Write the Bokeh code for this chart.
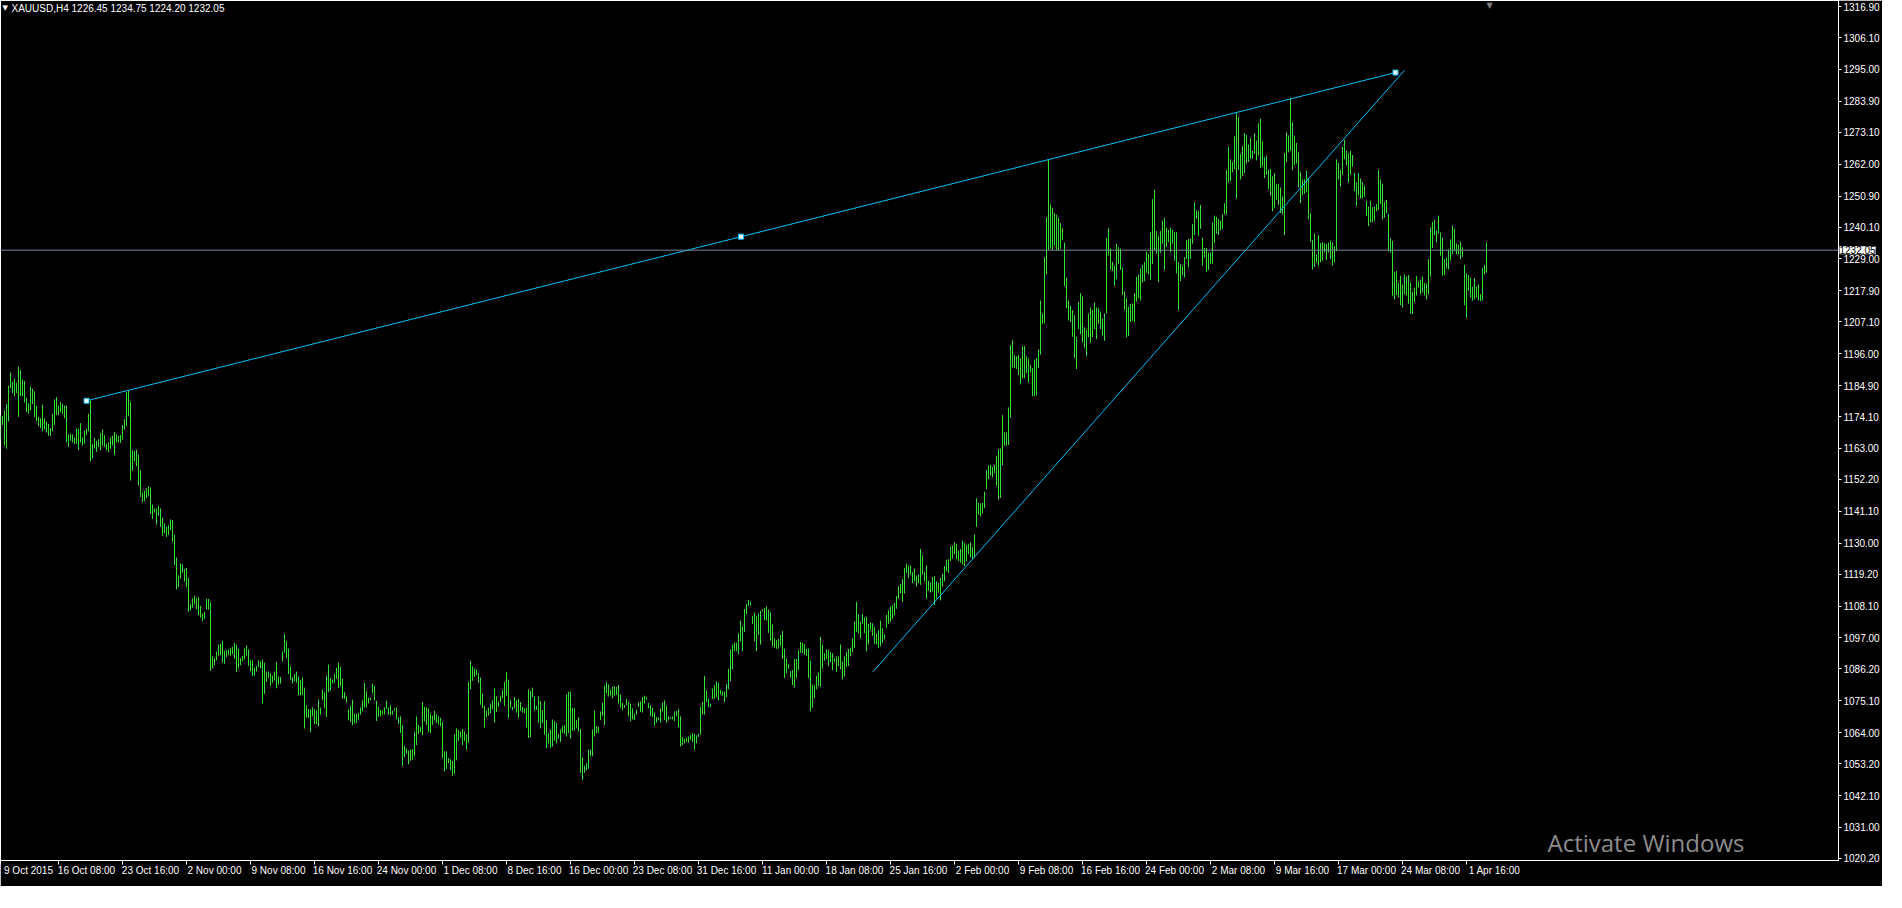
from bokeh.plotting import figure
from bokeh.models import Range1d, FixedTicker, PrintfTickFormatter, Label, Span, LinearAxis
from bokeh.embed import file_html
from bokeh.resources import INLINE

# ---------------- data ----------------
symbol = "XAUUSD,H4"
last_ohlc = [1226.45, 1234.75, 1224.20, 1232.05]   # open, high, low, close of the last bar
bid_price = 1232.05

highs = [
    1174.6, 1174.3, 1176.2, 1178.5, 1184.9, 1189.5, 1186.2, 1187.3, 1185.9, 1191.5,
    1190.3, 1187.0, 1186.5, 1180.7, 1178.7, 1184.6, 1183.8, 1182.9, 1177.9, 1174.0,
    1173.5, 1178.2, 1173.5, 1172.4, 1171.6, 1170.1, 1175.1, 1180.1, 1180.9, 1177.9,
    1179.2, 1178.5, 1177.9, 1177.9, 1167.9, 1168.2, 1167.9, 1166.8, 1169.9, 1169.9,
    1171.8, 1166.8, 1169.2, 1169.9, 1175.1, 1179.6, 1164.6, 1166.6, 1165.7, 1166.2,
    1168.2, 1169.6, 1167.6, 1164.6, 1165.1, 1166.8, 1167.4, 1168.8, 1167.9, 1167.4,
    1167.7, 1171.2, 1173.2, 1182.7, 1183.1, 1179.2, 1162.4, 1162.1, 1162.6, 1160.9,
    1155.4, 1147.6, 1148.3, 1149.1, 1149.8, 1149.4, 1143.5, 1142.1, 1142.1, 1143.0,
    1142.1, 1138.9, 1136.9, 1135.7, 1136.3, 1138.3, 1138.0, 1133.0, 1125.0, 1118.8,
    1123.0, 1122.7, 1121.0, 1121.3, 1118.0, 1108.9, 1110.8, 1111.7, 1110.8, 1111.3,
    1108.2, 1105.5, 1106.1, 1110.6, 1110.6, 1109.3, 1090.8, 1090.0, 1092.2, 1094.7,
    1095.0, 1096.0, 1092.5, 1092.8, 1093.0, 1093.6, 1093.9, 1095.3, 1094.7, 1093.3,
    1090.0, 1090.8, 1093.3, 1094.4, 1093.0, 1089.2, 1089.2, 1086.7, 1087.3, 1089.2,
    1088.8, 1089.5, 1088.4, 1085.3, 1085.3, 1084.7, 1083.9, 1085.3, 1088.6, 1083.6,
    1083.4, 1092.3, 1098.4, 1096.0, 1093.3, 1087.0, 1083.3, 1084.4, 1085.3, 1083.6,
    1082.3, 1083.3, 1079.7, 1073.6, 1072.2, 1072.2, 1072.8, 1072.2, 1071.7, 1075.6,
    1072.7, 1079.0, 1078.1, 1083.9, 1087.7, 1083.1, 1082.5, 1084.5, 1086.6, 1088.4,
    1086.9, 1082.8, 1078.1, 1076.7, 1072.2, 1073.4, 1075.5, 1070.6, 1070.6, 1070.9,
    1072.8, 1075.3, 1081.4, 1078.4, 1076.2, 1076.2, 1081.1, 1080.3, 1075.1, 1073.1,
    1072.0, 1071.7, 1072.8, 1075.1, 1072.8, 1073.6, 1071.7, 1072.5, 1072.8, 1069.4,
    1069.7, 1066.7, 1059.4, 1058.4, 1057.8, 1058.1, 1058.3, 1064.4, 1069.7, 1066.7,
    1066.0, 1074.7, 1073.0, 1072.8, 1072.5, 1070.5, 1069.9, 1071.6, 1070.3, 1069.7,
    1069.2, 1067.7, 1057.5, 1057.5, 1055.1, 1054.7, 1054.2, 1063.4, 1065.6, 1064.9,
    1064.4, 1065.3, 1064.5, 1063.4, 1081.7, 1089.0, 1087.1, 1086.3, 1086.0, 1084.7,
    1083.2, 1077.7, 1073.4, 1071.7, 1072.7, 1074.1, 1075.3, 1079.4, 1076.7, 1074.9,
    1076.9, 1078.9, 1081.7, 1085.2, 1082.5, 1075.5, 1073.0, 1076.4, 1075.3, 1075.8,
    1074.7, 1073.0, 1072.5, 1072.7, 1079.1, 1078.6, 1079.7, 1076.7, 1073.4, 1076.7,
    1075.0, 1071.9, 1075.0, 1068.4, 1063.8, 1065.1, 1068.6, 1068.0, 1067.5, 1063.4,
    1065.1, 1066.4, 1066.6, 1077.3, 1078.3, 1078.3, 1072.7, 1072.5, 1068.4, 1069.4,
    1065.3, 1055.5, 1052.5, 1053.4, 1058.1, 1058.1, 1065.1, 1071.7, 1066.4, 1066.0,
    1071.4, 1074.4, 1080.5, 1081.7, 1080.8, 1078.9, 1080.0, 1080.2, 1079.9, 1080.6,
    1077.3, 1074.4, 1073.6, 1075.8, 1074.7, 1074.1, 1072.5, 1070.6, 1071.9, 1074.6,
    1074.9, 1076.4, 1076.9, 1076.4, 1074.4, 1073.6, 1072.7, 1071.0, 1069.5, 1069.4,
    1072.5, 1074.5, 1075.3, 1073.4, 1069.7, 1069.4, 1069.7, 1071.4, 1071.6, 1072.3,
    1069.7, 1062.5, 1061.9, 1062.3, 1062.7, 1063.1, 1063.8, 1063.6, 1063.1, 1063.6,
    1073.0, 1074.7, 1083.8, 1078.6, 1075.8, 1074.1, 1079.4, 1080.6, 1081.9, 1081.4,
    1078.9, 1078.4, 1078.3, 1081.0, 1086.3, 1093.0, 1094.7, 1095.4, 1095.4, 1098.6,
    1103.0, 1101.0, 1107.1, 1108.8, 1110.2, 1109.6, 1104.7, 1105.8, 1104.7, 1105.5,
    1106.5, 1106.9, 1107.4, 1108.0, 1106.9, 1106.0, 1101.7, 1096.9, 1096.3, 1096.7,
    1098.0, 1099.4, 1093.3, 1089.7, 1087.8, 1085.5, 1085.8, 1089.7, 1089.7, 1092.7,
    1095.6, 1095.4, 1094.9, 1093.3, 1093.3, 1089.1, 1080.8, 1080.5, 1083.8, 1084.9,
    1097.4, 1094.7, 1091.7, 1093.0, 1092.8, 1092.1, 1091.7, 1089.9, 1090.6, 1090.6,
    1094.7, 1088.8, 1090.6, 1092.1, 1093.2, 1093.6, 1096.9, 1102.8, 1109.6, 1105.2,
    1102.7, 1105.4, 1104.1, 1104.3, 1101.9, 1102.4, 1102.1, 1100.8, 1098.6, 1099.7,
    1103.0, 1100.4, 1098.3, 1105.0, 1106.6, 1108.0, 1108.4, 1109.2, 1111.6, 1115.1,
    1115.8, 1117.5, 1121.4, 1122.9, 1122.0, 1122.3, 1119.9, 1121.1, 1118.7, 1119.1,
    1128.0, 1125.8, 1119.9, 1122.3, 1116.9, 1116.3, 1118.2, 1118.5, 1116.7, 1116.1,
    1117.9, 1119.4, 1122.0, 1124.2, 1124.4, 1128.8, 1129.2, 1130.3, 1129.8, 1127.4,
    1128.0, 1130.9, 1130.1, 1129.4, 1129.8, 1130.3, 1128.6, 1133.0, 1145.6, 1144.0,
    1143.8, 1144.0, 1147.9, 1155.5, 1157.1, 1157.3, 1156.5, 1157.3, 1160.3, 1162.8,
    1163.0, 1174.6, 1168.6, 1168.6, 1177.3, 1199.0, 1200.7, 1195.5, 1195.1, 1195.5,
    1194.3, 1198.7, 1198.7, 1195.1, 1194.3, 1192.1, 1191.0, 1193.9, 1194.5, 1197.5,
    1214.5, 1210.0, 1229.6, 1243.5, 1263.7, 1248.0, 1246.8, 1245.0, 1244.4, 1243.3,
    1241.5, 1239.7, 1234.7, 1222.5, 1214.5, 1212.6, 1211.2, 1209.4, 1201.9, 1214.1,
    1217.1, 1215.9, 1205.2, 1204.3, 1210.0, 1212.1, 1211.2, 1213.8, 1212.1, 1211.8,
    1210.6, 1208.2, 1210.0, 1236.4, 1239.7, 1232.6, 1228.0, 1226.6, 1234.3, 1233.2,
    1232.6, 1226.0, 1217.7, 1215.3, 1212.4, 1213.3, 1213.5, 1217.1, 1222.8, 1223.6,
    1225.7, 1226.9, 1228.0, 1231.6, 1230.8, 1238.3, 1249.8, 1253.1, 1238.7, 1237.1,
    1238.7, 1242.3, 1243.3, 1239.9, 1239.1, 1239.9, 1239.1, 1238.3, 1238.3, 1227.8,
    1227.2, 1226.6, 1229.6, 1235.5, 1235.9, 1236.1, 1241.1, 1248.6, 1245.9, 1245.6,
    1247.8, 1236.4, 1232.8, 1232.8, 1231.2, 1231.2, 1241.7, 1244.1, 1243.7, 1243.0,
    1242.3, 1244.5, 1248.4, 1260.0, 1268.1, 1263.7, 1262.8, 1271.7, 1280.0, 1278.3,
    1265.6, 1268.3, 1272.8, 1272.2, 1268.9, 1271.1, 1266.7, 1272.8, 1270.3, 1276.3,
    1277.8, 1270.0, 1264.4, 1264.8, 1260.0, 1260.3, 1257.8, 1258.9, 1255.0, 1255.2,
    1253.9, 1250.8, 1265.9, 1273.0, 1272.0, 1285.0, 1276.6, 1271.9, 1269.4, 1266.1,
    1259.4, 1256.7, 1256.7, 1259.7, 1257.2, 1245.0, 1235.6, 1237.8, 1230.6, 1237.3,
    1234.5, 1234.8, 1234.5, 1234.2, 1234.7, 1235.4, 1234.8, 1233.4, 1263.7, 1262.4,
    1260.0, 1268.0, 1270.5, 1266.7, 1265.8, 1266.7, 1265.2, 1258.9, 1255.6, 1258.9,
    1257.0, 1255.8, 1254.5, 1249.2, 1247.2, 1249.2, 1247.0, 1247.2, 1248.1, 1260.0,
    1256.7, 1255.2, 1248.9, 1249.5, 1244.7, 1236.2, 1235.3, 1224.5, 1224.8, 1220.6,
    1223.1, 1220.1, 1223.6, 1222.8, 1223.4, 1220.8, 1217.5, 1219.0, 1223.1, 1221.2,
    1221.7, 1222.8, 1220.6, 1220.4, 1228.9, 1240.0, 1241.9, 1242.6, 1238.9, 1244.1,
    1238.2, 1236.4, 1228.9, 1229.5, 1232.3, 1235.8, 1240.6, 1239.5, 1234.3, 1233.9,
    1235.0, 1233.0, 1226.9, 1224.0, 1223.4, 1222.5, 1219.3, 1222.3, 1219.3, 1220.1,
    1216.7, 1225.8, 1226.9, 1234.75,
]

lows = [
    1166.2, 1171.2, 1164.0, 1162.9, 1172.4, 1184.0, 1182.3, 1181.2, 1182.3, 1174.0,
    1181.2, 1181.2, 1179.0, 1175.7, 1175.1, 1176.2, 1178.5, 1174.0, 1172.4, 1170.7,
    1170.1, 1169.0, 1169.6, 1168.5, 1167.4, 1167.4, 1169.0, 1171.2, 1174.6, 1174.6,
    1175.7, 1175.1, 1173.5, 1165.1, 1163.5, 1165.7, 1165.1, 1164.6, 1164.6, 1162.4,
    1165.1, 1164.0, 1164.6, 1167.6, 1169.0, 1158.5, 1159.6, 1162.9, 1161.8, 1163.5,
    1162.4, 1164.0, 1163.5, 1162.4, 1161.8, 1162.9, 1164.0, 1160.7, 1165.1, 1165.1,
    1164.9, 1166.0, 1169.6, 1170.7, 1174.2, 1151.8, 1155.2, 1158.5, 1156.8, 1150.2,
    1146.1, 1144.3, 1144.6, 1145.7, 1146.3, 1140.2, 1138.5, 1140.7, 1136.5, 1139.6,
    1135.7, 1132.6, 1133.5, 1132.2, 1132.8, 1134.6, 1130.4, 1122.4, 1113.9, 1114.7,
    1117.7, 1119.7, 1116.6, 1114.7, 1106.1, 1106.6, 1107.5, 1108.6, 1106.9, 1105.0,
    1104.1, 1102.8, 1103.6, 1106.9, 1106.9, 1085.5, 1086.4, 1087.5, 1089.2, 1090.8,
    1091.0, 1088.4, 1088.0, 1090.3, 1091.0, 1090.8, 1091.4, 1089.7, 1085.1, 1086.4,
    1087.5, 1088.8, 1089.5, 1090.8, 1087.3, 1085.3, 1083.9, 1083.9, 1085.3, 1086.9,
    1086.4, 1074.2, 1077.5, 1081.7, 1083.1, 1080.3, 1081.4, 1082.2, 1079.5, 1080.8,
    1081.1, 1088.8, 1091.9, 1090.0, 1084.4, 1082.5, 1081.1, 1081.9, 1081.4, 1077.0,
    1077.0, 1077.2, 1065.5, 1069.2, 1069.2, 1064.2, 1069.7, 1067.0, 1067.0, 1066.2,
    1070.3, 1075.3, 1072.5, 1069.5, 1078.1, 1078.6, 1081.1, 1081.4, 1082.8, 1079.5,
    1080.3, 1075.8, 1075.8, 1074.5, 1068.4, 1067.7, 1066.6, 1067.3, 1067.3, 1068.6,
    1070.3, 1071.4, 1072.8, 1072.8, 1074.2, 1075.3, 1077.7, 1075.3, 1068.1, 1069.5,
    1069.7, 1070.3, 1070.3, 1072.2, 1070.3, 1070.0, 1070.3, 1071.7, 1068.6, 1067.0,
    1063.9, 1052.5, 1055.5, 1056.7, 1053.1, 1054.2, 1054.5, 1055.8, 1059.7, 1063.6,
    1064.2, 1063.1, 1068.0, 1066.6, 1064.2, 1063.8, 1066.7, 1068.3, 1067.5, 1066.8,
    1066.2, 1055.1, 1050.5, 1051.4, 1053.4, 1050.9, 1049.0, 1049.7, 1054.4, 1061.2,
    1062.3, 1059.7, 1061.1, 1058.1, 1060.5, 1079.1, 1082.1, 1083.4, 1084.1, 1081.4,
    1073.8, 1072.7, 1065.8, 1069.4, 1069.9, 1070.8, 1072.2, 1067.5, 1071.2, 1073.0,
    1074.7, 1076.0, 1073.3, 1076.9, 1069.2, 1072.7, 1071.9, 1072.5, 1071.0, 1069.2,
    1071.6, 1071.0, 1070.8, 1065.8, 1062.2, 1062.5, 1076.4, 1071.7, 1071.9, 1067.5,
    1065.5, 1067.3, 1063.3, 1058.6, 1060.3, 1058.8, 1059.2, 1061.2, 1060.3, 1061.9,
    1060.8, 1063.9, 1063.6, 1062.7, 1063.9, 1061.9, 1064.7, 1064.7, 1065.5, 1064.4,
    1050.0, 1047.5, 1050.1, 1050.9, 1051.4, 1055.8, 1055.8, 1062.7, 1063.8, 1063.9,
    1068.4, 1069.9, 1066.7, 1077.7, 1076.6, 1076.9, 1076.0, 1076.9, 1077.1, 1074.1,
    1072.8, 1071.9, 1072.7, 1073.6, 1069.7, 1068.0, 1068.6, 1068.4, 1070.3, 1073.0,
    1071.2, 1071.0, 1074.1, 1075.5, 1072.5, 1069.9, 1069.4, 1066.4, 1067.5, 1068.3,
    1067.5, 1071.4, 1068.4, 1067.5, 1068.3, 1068.8, 1068.6, 1068.0, 1069.7, 1065.8,
    1059.2, 1059.7, 1060.3, 1060.8, 1060.5, 1061.6, 1060.8, 1058.1, 1060.3, 1062.5,
    1063.3, 1070.3, 1070.3, 1074.7, 1072.8, 1073.0, 1075.8, 1075.8, 1076.4, 1075.3,
    1077.3, 1076.9, 1074.7, 1076.4, 1079.1, 1081.9, 1086.1, 1092.4, 1092.4, 1091.3,
    1095.8, 1092.4, 1099.1, 1105.2, 1108.0, 1108.3, 1101.9, 1095.8, 1092.4, 1098.0,
    1094.7, 1106.3, 1103.2, 1103.0, 1098.8, 1096.1, 1094.1, 1093.6, 1093.2, 1093.3,
    1094.3, 1089.7, 1083.0, 1084.7, 1086.3, 1083.2, 1080.6, 1079.7, 1083.0, 1085.8,
    1091.9, 1091.7, 1091.1, 1090.8, 1083.0, 1071.4, 1072.7, 1076.1, 1079.1, 1080.2,
    1080.0, 1086.3, 1089.1, 1089.7, 1087.2, 1088.6, 1085.8, 1088.6, 1085.2, 1087.2,
    1086.1, 1082.5, 1083.6, 1086.9, 1087.2, 1090.6, 1092.1, 1093.6, 1099.1, 1098.6,
    1096.9, 1101.9, 1098.6, 1092.4, 1094.7, 1099.9, 1097.7, 1094.9, 1094.7, 1093.6,
    1094.1, 1095.3, 1096.5, 1100.6, 1101.8, 1102.6, 1103.6, 1104.8, 1107.2, 1110.7,
    1112.5, 1109.5, 1112.5, 1119.6, 1117.9, 1119.1, 1116.1, 1116.7, 1114.9, 1116.1,
    1115.5, 1119.1, 1116.7, 1110.7, 1113.5, 1112.8, 1113.1, 1108.4, 1110.7, 1112.8,
    1110.1, 1114.9, 1116.7, 1120.2, 1119.6, 1123.8, 1124.6, 1126.2, 1124.4, 1123.8,
    1123.2, 1122.6, 1122.0, 1123.8, 1126.2, 1125.0, 1124.4, 1125.0, 1135.7, 1139.9,
    1139.3, 1140.4, 1142.2, 1148.8, 1152.3, 1153.5, 1152.9, 1154.4, 1150.0, 1145.2,
    1145.8, 1157.1, 1163.9, 1163.9, 1164.2, 1173.7, 1191.2, 1191.0, 1190.7, 1188.6,
    1185.3, 1187.4, 1187.4, 1189.2, 1186.0, 1189.5, 1181.2, 1181.2, 1181.5, 1191.0,
    1195.7, 1206.4, 1206.6, 1223.6, 1232.0, 1232.6, 1232.0, 1233.7, 1232.0, 1232.0,
    1232.6, 1235.5, 1219.5, 1211.8, 1207.6, 1207.0, 1201.9, 1194.5, 1190.7, 1204.6,
    1202.8, 1199.9, 1198.1, 1195.1, 1201.7, 1199.9, 1201.7, 1204.6, 1201.1, 1206.4,
    1204.6, 1202.2, 1200.5, 1210.0, 1230.2, 1225.4, 1224.8, 1219.7, 1221.9, 1227.2,
    1225.2, 1216.5, 1211.2, 1201.7, 1202.2, 1207.0, 1207.4, 1207.0, 1214.1, 1215.3,
    1214.5, 1220.7, 1221.3, 1224.2, 1223.6, 1221.6, 1227.2, 1232.0, 1230.8, 1220.9,
    1231.1, 1234.3, 1225.2, 1233.2, 1234.9, 1231.4, 1234.3, 1228.4, 1224.0, 1211.2,
    1221.3, 1223.3, 1222.5, 1229.0, 1226.0, 1229.0, 1234.3, 1237.3, 1243.0, 1237.0,
    1239.5, 1226.7, 1229.5, 1224.5, 1225.1, 1227.3, 1227.3, 1234.5, 1237.8, 1237.3,
    1238.9, 1239.5, 1244.5, 1244.5, 1255.6, 1256.1, 1259.2, 1260.3, 1250.0, 1260.0,
    1256.7, 1257.8, 1258.9, 1262.2, 1262.8, 1263.9, 1263.9, 1265.6, 1263.3, 1265.0,
    1260.6, 1261.1, 1257.2, 1258.3, 1253.3, 1251.1, 1245.6, 1246.7, 1249.5, 1247.8,
    1245.0, 1244.5, 1237.3, 1262.8, 1266.1, 1266.7, 1260.0, 1261.7, 1262.2, 1253.9,
    1248.4, 1251.1, 1251.7, 1252.2, 1242.8, 1235.0, 1225.3, 1226.2, 1227.8, 1226.7,
    1227.8, 1228.4, 1231.2, 1228.6, 1231.2, 1228.9, 1226.7, 1227.8, 1231.7, 1256.7,
    1254.1, 1258.3, 1263.7, 1261.7, 1255.6, 1258.3, 1261.1, 1252.6, 1247.5, 1251.1,
    1250.0, 1250.0, 1250.6, 1243.9, 1240.4, 1241.7, 1241.7, 1242.3, 1245.6, 1246.1,
    1248.1, 1242.8, 1243.4, 1245.0, 1231.7, 1231.2, 1216.0, 1214.9, 1216.4, 1215.6,
    1212.9, 1212.1, 1216.7, 1216.2, 1213.4, 1209.9, 1209.8, 1214.0, 1216.2, 1219.0,
    1216.7, 1217.3, 1216.2, 1214.9, 1216.7, 1222.8, 1232.8, 1237.3, 1234.7, 1237.8,
    1230.1, 1223.1, 1223.4, 1225.6, 1225.3, 1228.4, 1230.6, 1231.7, 1230.6, 1230.6,
    1228.9, 1229.7, 1212.9, 1208.6, 1217.9, 1215.6, 1214.5, 1214.9, 1215.6, 1214.5,
    1214.3, 1214.5, 1223.6, 1224.20,
]

price_ticks = [1316.9, 1306.1, 1295.0, 1283.9, 1273.1, 1262.0, 1250.9, 1240.1, 1229.0,
               1217.9, 1207.1, 1196.0, 1184.9, 1174.1, 1163.0, 1152.2, 1141.1, 1130.0,
               1119.2, 1108.1, 1097.0, 1086.2, 1075.1, 1064.0, 1053.2, 1042.1, 1031.0,
               1020.2]

time_tick_bars = [0, 29, 61, 93, 125, 157, 189, 221, 253, 285, 317, 349, 381, 413,
                  445, 477, 509, 541, 573, 605, 637, 669, 701, 733]
time_tick_labels = ["9 Oct 2015", "16 Oct 08:00", "23 Oct 16:00", "2 Nov 00:00",
                    "9 Nov 08:00", "16 Nov 16:00", "24 Nov 00:00", "1 Dec 08:00",
                    "8 Dec 16:00", "16 Dec 00:00", "23 Dec 08:00", "31 Dec 16:00",
                    "11 Jan 00:00", "18 Jan 08:00", "25 Jan 16:00", "2 Feb 00:00",
                    "9 Feb 08:00", "16 Feb 16:00", "24 Feb 00:00", "2 Mar 08:00",
                    "9 Mar 16:00", "17 Mar 00:00", "24 Mar 08:00", "1 Apr 16:00"]

# trend lines: (bar index, price) of the two anchor points
resistance_bars = [43, 697.5]
resistance_prices = [1179.6, 1293.9]
support_bars = [436.2, 702.0]
support_prices = [1085.2, 1294.7]

# ---------------- styling ----------------
BAR_GREEN = "#33e033"
LINE_BLUE = "#00BFFF"
BID_GRAY = "#778899"
FONT = "Liberation Sans"

FRAME_W = 1838
FRAME_H = 860
PX_PER_BAR = 2.0
x_start = 0.0
x_end = x_start + FRAME_W / PX_PER_BAR
y_low, y_high = 1019.5, 1319.0
LABEL_SHIFT = 14   # MT4 writes each time label to the right of its tick (in bars)

p = figure(frame_width=FRAME_W, frame_height=FRAME_H,
           x_range=Range1d(x_start, x_end), y_range=Range1d(y_low, y_high),
           output_backend="svg", toolbar_location=None, tools="",
           x_axis_location="below", y_axis_location="right",
           background_fill_color="black", border_fill_color="black",
           min_border_left=0, min_border_top=0, min_border_right=0, min_border_bottom=0)
p.grid.visible = False
p.outline_line_color = "white"
p.outline_line_width = 1

# price axis
ya = p.yaxis[0]
ya.ticker = FixedTicker(ticks=price_ticks)
ya.formatter = PrintfTickFormatter(format="%.2f")
ya.axis_line_color = "white"
ya.major_tick_line_color = "white"
ya.major_tick_in = 0
ya.major_tick_out = 3
ya.minor_tick_line_color = None
ya.major_label_text_color = "white"
ya.major_label_text_font = FONT
ya.major_label_text_font_size = "10px"
ya.major_label_standoff = 2

# time axis: tick marks
xa = p.xaxis[0]
xa.ticker = FixedTicker(ticks=time_tick_bars)
xa.major_label_overrides = {b: "" for b in time_tick_bars}
xa.major_label_text_font_size = "0px"
xa.major_label_standoff = 0
xa.axis_line_color = "white"
xa.major_tick_line_color = "white"
xa.major_tick_in = 0
xa.major_tick_out = 4
xa.minor_tick_line_color = None

# time axis: labels written just right of each tick
label_pos = [b + LABEL_SHIFT for b in time_tick_bars]
xl = LinearAxis(ticker=FixedTicker(ticks=label_pos),
                major_label_overrides={q: t for q, t in zip(label_pos, time_tick_labels)},
                axis_line_color=None, major_tick_line_color=None, minor_tick_line_color=None,
                major_tick_in=0, major_tick_out=0, major_label_standoff=0,
                major_label_text_color="white", major_label_text_font=FONT,
                major_label_text_font_size="10px")
p.add_layout(xl, "below")

# bars (high-low)
idx = list(range(len(highs)))
p.segment(x0=idx, y0=lows, x1=idx, y1=highs, line_color=BAR_GREEN, line_width=1)

# bid line
p.add_layout(Span(location=bid_price, dimension="width", line_color=BID_GRAY, line_width=1))

# trend lines
p.line(resistance_bars, resistance_prices, line_color=LINE_BLUE, line_width=1)
p.line(support_bars, support_prices, line_color=LINE_BLUE, line_width=1)
mid_bar = (resistance_bars[0] + resistance_bars[1]) / 2
mid_price = (resistance_prices[0] + resistance_prices[1]) / 2
p.scatter(x=[resistance_bars[0], mid_bar, resistance_bars[1]],
          y=[resistance_prices[0], mid_price, resistance_prices[1]],
          marker="square", size=5, fill_color="white", line_color=LINE_BLUE, line_width=1)

# header text
header = "%s  %.2f %.2f %.2f %.2f" % (symbol, *last_ohlc)
p.add_layout(Label(x=x_start, y=y_high, x_offset=2, y_offset=-3, text="\u25bc",
                   text_color="white", text_font="DejaVu Sans", text_font_size="7px",
                   text_baseline="top", text_align="left"))
p.add_layout(Label(x=x_start, y=y_high, x_offset=11, y_offset=-2, text=header,
                   text_color="white", text_font=FONT, text_font_size="10px",
                   text_baseline="top", text_align="left"))
# chart shift marker
p.add_layout(Label(x=len(highs) + 0.5, y=y_high, y_offset=0, text="\u25bc",
                   text_color="#808080", text_font="DejaVu Sans", text_font_size="8px",
                   text_baseline="top", text_align="center"))

# bid price tag on the price axis (placed in a side panel so it is not clipped to the frame)
bid_tag = Label(x=FRAME_W + 1, x_units="screen", y=bid_price, text="%.2f" % bid_price,
                text_color="black", text_font=FONT, text_font_size="10px",
                text_baseline="middle", text_align="left",
                background_fill_color="white", background_fill_alpha=1.0)
p.add_layout(bid_tag, "below")

# OS watermark seen on the screenshot
p.add_layout(Label(x=x_end, y=y_low, x_offset=-291, y_offset=2, text="Activate Windows",
                   text_color="#8c8c8c", text_font="Open Sans", text_font_size="24px",
                   text_baseline="bottom", text_align="left"))

open("out.html", "w").write(file_html(p, INLINE))
